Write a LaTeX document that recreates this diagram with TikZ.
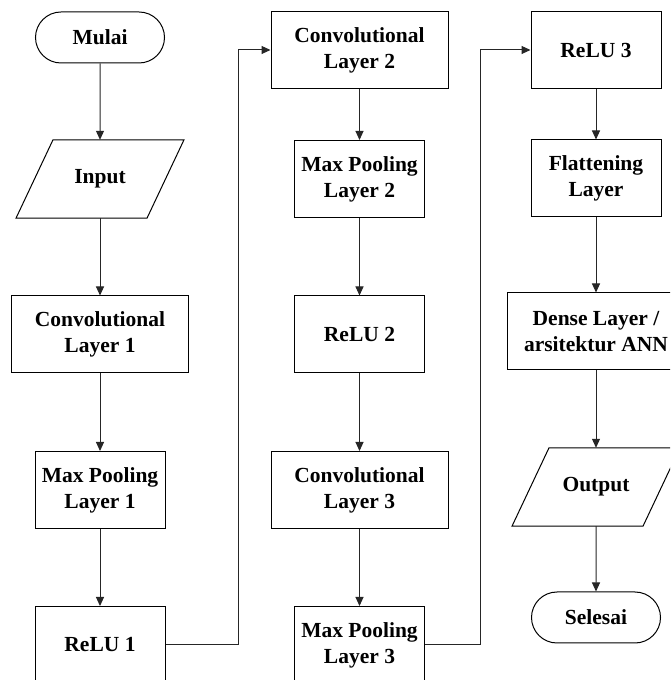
\documentclass[tikz,border=0pt]{standalone}
\usepackage{fontspec}
\setmainfont{Liberation Serif}
\usetikzlibrary{arrows.meta,shapes.misc}
\begin{document}
\begin{tikzpicture}[x=1pt,y=1pt,
  every node/.style={font=\bfseries\fontsize{21.5}{26}\selectfont, align=center, inner sep=0pt},
  wide/.style={draw, line width=1pt, rectangle, minimum width=177pt, minimum height=77pt},
  narrow/.style={draw, line width=1pt, rectangle, minimum width=130pt, minimum height=77pt},
  term/.style={draw, line width=1pt, rounded rectangle, minimum width=129pt, minimum height=51pt},
  iobox/.style={rectangle, minimum width=131pt, minimum height=78pt},
  ioline/.style={line width=1pt, line join=miter},
  flow/.style={line width=1pt, draw=black!85, -{Triangle[length=9pt,width=8pt]}},
  link/.style={line width=1pt, draw=black!85}]
\useasboundingbox (0,0) rectangle (670,680);
\clip (0,0) rectangle (670,680);
% column 1
\node[term] (mulai) at (100,642.5) {Mulai};
\node[iobox] (input) at (100,501) {Input};
\node[wide] (conv1) at (100,345.5) {Convolutional\\Layer 1};
\node[narrow] (mp1) at (100,190) {Max Pooling\\Layer 1};
\node[narrow] (relu1) at (100,35) {ReLU 1};
% column 2
\node[wide] (conv2) at (359.5,630) {Convolutional\\Layer 2};
\node[narrow] (mp2) at (359.5,501) {Max Pooling\\Layer 2};
\node[narrow] (relu2) at (359.5,345.5) {ReLU 2};
\node[wide] (conv3) at (359.5,190) {Convolutional\\Layer 3};
\node[narrow] (mp3) at (359.5,35) {Max Pooling\\Layer 3};
% column 3
\node[narrow] (relu3) at (596,630) {ReLU 3};
\node[narrow] (flat) at (596,501.5) {Flattening\\Layer};
\node[wide, minimum width=178pt] (dense) at (596,348.5) {Dense Layer /\\arsitektur ANN};
\node[iobox] (output) at (596,193) {Output};
\node[term] (selesai) at (596,62.5) {Selesai};
% parallelogram outlines
\draw[ioline] ([xshift=-47pt]input.north) -- ([xshift=84pt]input.north) -- ([xshift=47pt]input.south) -- ([xshift=-84pt]input.south) -- cycle;
\draw[ioline] ([xshift=-47pt]output.north) -- ([xshift=84pt]output.north) -- ([xshift=47pt]output.south) -- ([xshift=-84pt]output.south) -- cycle;
% junction coordinates
\coordinate (j1) at (238,340);
\coordinate (j2) at (480,340);
% connectors
\draw[flow] (mulai) -- (input);
\draw[flow] (input) -- (conv1);
\draw[flow] (conv1) -- (mp1);
\draw[flow] (mp1) -- (relu1);
\draw[link] (relu1.east) -- (relu1.east -| j1) -- (conv2.west -| j1);
\draw[flow] (conv2.west -| j1) -- (conv2.west);
\draw[flow] (conv2) -- (mp2);
\draw[flow] (mp2) -- (relu2);
\draw[flow] (relu2) -- (conv3);
\draw[flow] (conv3) -- (mp3);
\draw[link] (mp3.east) -- (mp3.east -| j2) -- (relu3.west -| j2);
\draw[flow] (relu3.west -| j2) -- (relu3.west);
\draw[flow] (relu3) -- (flat);
\draw[flow] (flat) -- (dense);
\draw[flow] (dense) -- (output);
\draw[flow] (output) -- (selesai);
\end{tikzpicture}
\end{document}
